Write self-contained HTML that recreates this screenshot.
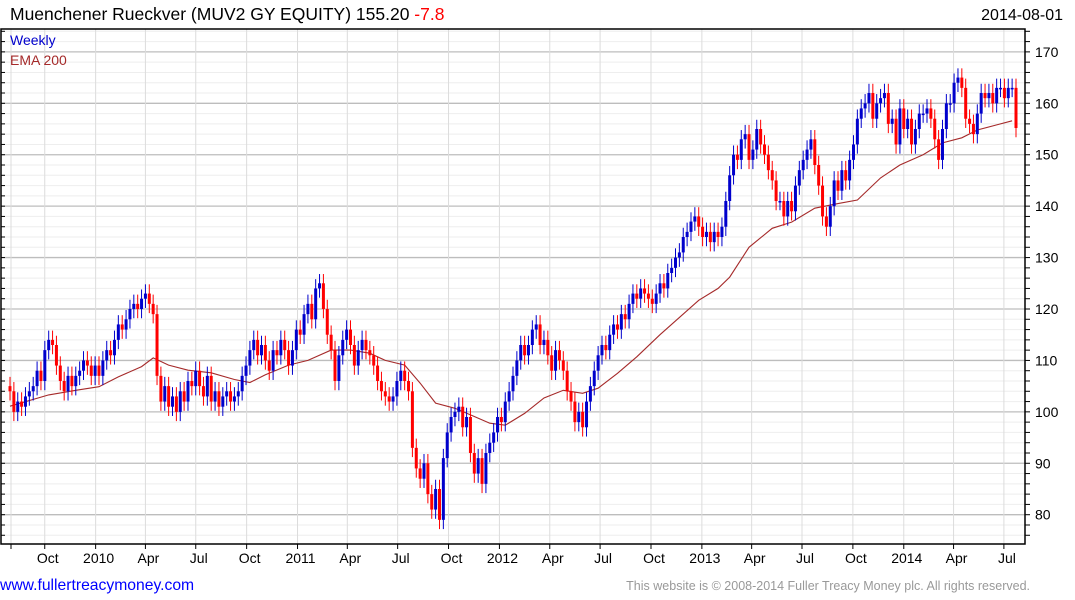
<!DOCTYPE html>
<html><head><meta charset="utf-8">
<style>
body{margin:0;background:#fff;width:1075px;height:600px;overflow:hidden;font-family:"Liberation Sans",Arial,sans-serif;}
svg{display:block}
</style></head>
<body>
<svg id="chart" width="1075" height="600" xmlns="http://www.w3.org/2000/svg">
<text x="10" y="20" font-size="17.5" fill="#000">Muenchener Rueckver (MUV2 GY EQUITY) 155.20 <tspan fill="#ff0000">-7.8</tspan></text>
<text x="1063" y="20" font-size="16" text-anchor="end" fill="#000">2014-08-01</text>
<g id="grid"></g>
<g id="ema"></g>
<g id="candles"></g>
<g id="axes"></g>
<text x="10" y="45" font-size="14" fill="#0000cc">Weekly</text>
<text x="10" y="65" font-size="14" fill="#a52a2a">EMA 200</text>
<text x="0" y="590" font-size="15.7" fill="#0000ff">www.fullertreacymoney.com</text>
<text x="1030" y="590" font-size="12.5" text-anchor="end" fill="#999">This website is © 2008-2014 Fuller Treacy Money plc. All rights reserved.</text>
</svg>
<script>
const closes = [104,100,102,101,103, 104,105,108,106, 112,114,113,109, 106,104,107,105,107, 108,110,109,107,
109,107,110,112, 111,114,117,116, 118,120,121,120,122, 123,121,119,107, 102,105,101,103, 100,104,102,106,105,
108,105,103,107, 102,104,101,103, 104,102,103,104, 107,109,112,114,111, 113,110,108,112, 111,114,112,109,
112,116,115,119,121, 118,124,125,120, 115,112,106,111, 114,116,113,109, 112,114,112,111,109, 106,104,103,102,
103,106,108,106,104, 93,89,87,90, 84,81,85,79, 91,96,99,100,101, 97,99,92,88, 91,86,92,94,
96,99,98,102,104, 107,110,113,111, 113,116,117,113, 114,111,108,112,110, 108,104,102,98, 100,97,102,105,
108,111,113,112,115, 117,116,119,118, 121,123,122,124, 123,122,121,123,125, 124,127,128,130, 131,134,135,137,
138,136,134,135,133, 135,134,136,141, 146,150,149,153, 154,149,151,155,152, 150,147,145,141, 141,138,141,139,
144,147,149,151,153, 148,144,138,136, 140,145,143,147, 145,149,152,157,159, 160,162,157,160, 161,162,156,157,
152,159,155,157,152, 155,158,158,159, 157,153,149,155,160, 160,164,165,163, 157,156,154,158, 162,161,162,160,163,
163,161,163,163,155.2];
const emaWeeks = [0,10,17,23,28,34,37,41,46,52,58,62,66,72,77,83,88,93,97,102,106,110,115,120,124,128,133,138,143,148,152,157,162,168,178,183,186,191,197,202,208,214,219,225,230,236,241,246,250,255,259];
const emaValues = [101.1,103.3,104.2,104.9,106.8,108.8,110.5,109.1,108.1,107.6,106.3,105.7,107.2,109.1,110,112,112,111.4,110,109.1,105.6,101.7,100.7,99.1,97.8,97.4,99.7,102.7,104.2,103.6,104.6,107.5,110.7,115,121.7,124,126.2,132,135.7,136.9,139.6,140.5,141.2,145.5,148,150,152.3,153.3,154.8,155.8,156.6];
const yTicks = [80,90,100,110,120,130,140,150,160,170];
const xTickLabels = ["","Oct","2010","Apr","Jul","Oct","2011","Apr","Jul","Oct","2012","Apr","Jul","Oct","2013","Apr","Jul","Oct","2014","Apr","Jul"];
const xTickDates = ["2009-08-01","2009-10-01","2010-01-01","2010-04-01","2010-07-01","2010-10-01","2011-01-01","2011-04-01","2011-07-01","2011-10-01","2012-01-01","2012-04-01","2012-07-01","2012-10-01","2013-01-01","2013-04-01","2013-07-01","2013-10-01","2014-01-01","2014-04-01","2014-07-01"];

const NS="http://www.w3.org/2000/svg";
const L=1,R=1025,T=29,B=544;
const n=closes.length;
const step=(1016-10)/(n-1);
function xI(i){return 10+i*step;}
function yV(v){return 514.7-(v-80)*5.1425;}
function xD(d){const days=(new Date(d)-new Date("2009-08-01"))/86400000;return 11+days/7*3.872;}
function mk(tag,attrs,parent){const e=document.createElementNS(NS,tag);for(const k in attrs)e.setAttribute(k,attrs[k]);parent.appendChild(e);return e;}
const grid=document.getElementById('grid'),axes=document.getElementById('axes'),cg=document.getElementById('candles'),eg=document.getElementById('ema');
for(let v=76;v<=174;v+=2){
  const y=yV(v);
  const major=v%10===0;
  const ln=mk('line',{x1:L,x2:R,y1:y,y2:y,stroke:major?'#bdbdbd':'#eeeeee','stroke-width':major?1.3:1},grid);
  
  
  const tk=mk('line',{x1:R,x2:R+5,y1:y,y2:y,stroke:'#000'},axes);
  
  
  const tl=mk('line',{x1:L,x2:L+4,y1:y,y2:y,stroke:'#000'},axes);
  
  
}
yTicks.forEach(v=>{
  const t=mk('text',{x:R+10,y:yV(v)+5,'font-size':14,fill:'#000'},axes);
  t.textContent=v;
  
  
});
xTickDates.forEach((d,k)=>{
  const x=xD(d);
  const gl=mk('line',{x1:x,x2:x,y1:T,y2:B,stroke:'#dcdcdc'},grid);
  
  
  const tk=mk('line',{x1:x,x2:x,y1:B,y2:B+5,stroke:'#000'},axes);
  
  
  if(xTickLabels[k]){
    const t=mk('text',{x:x+3,y:563,'font-size':14,'text-anchor':'middle',fill:'#000'},axes);
    t.textContent=xTickLabels[k];
    
    
  }
});
const frame=mk('rect',{x:L,y:T,width:R-L,height:B-T,fill:'none',stroke:'#000','stroke-width':1.5},axes);


let pts=emaWeeks.map((w,k)=>xI(w).toFixed(1)+','+yV(emaValues[k]).toFixed(1)).join(' ');
const pl=mk('polyline',{points:pts,fill:'none',stroke:'#a52a2a','stroke-width':1.1},eg);


for(let i=0;i<n;i++){
  const c=closes[i];
  const o=i>0?closes[i-1]:c+1;
  const up=c>=o;
  const col=up?'#0000cc':'#ff0000';
  const hi=Math.max(o,c)+1.8, lo=Math.min(o,c)-1.8;
  const x=xI(i);
  const w=mk('line',{x1:x,x2:x,y1:yV(hi),y2:yV(lo),stroke:col,'stroke-width':1},cg);
  
  
  const top=yV(Math.max(o,c)),bot=yV(Math.min(o,c));
  const r=mk('rect',{x:x-1.5,y:top,width:3,height:Math.max(1.5,bot-top),fill:col},cg);
  
  
}
</script>
</body></html>
